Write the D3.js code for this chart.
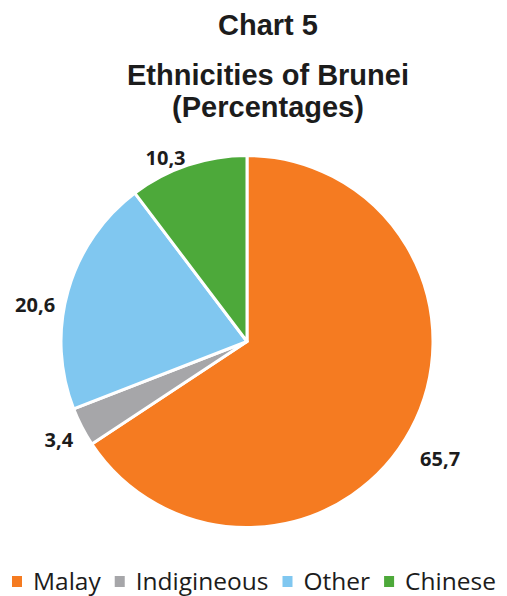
<!DOCTYPE html>
<html>
<head>
<meta charset="utf-8">
<script src="https://cdn.jsdelivr.net/npm/d3@7"></script>
<style>
  html, body { margin: 0; padding: 0; background: #fff; }
  svg { display: block; }
</style>
</head>
<body>
<svg id="chart" width="507" height="596"></svg>
<script>
// Ethnic composition of Brunei, in percent
const categories = ["Malay", "Indigineous", "Other", "Chinese"];
const values = [65.7, 3.4, 20.6, 10.3];
const valueLabels = ["65,7", "3,4", "20,6", "10,3"];
const colors = ["#F57B21", "#A6A6A9", "#80C7F0", "#4DA93A"];
const titleLines = ["Chart 5", "Ethnicities of Brunei", "(Percentages)"];

const svg = d3.select("#chart");
const cx = 247, cy = 341.5, R = 186;

// Titles
const titleY = [35, 85, 117];
svg.selectAll("text.title")
  .data(titleLines)
  .join("text")
  .attr("class", "title")
  .attr("x", 268)
  .attr("y", (d, i) => titleY[i])
  .attr("text-anchor", "middle")
  .attr("font-family", "Liberation Sans, Arial, sans-serif")
  .attr("font-weight", "bold")
  .attr("font-size", 29)
  .attr("fill", "#1c1c1c")
  .text(d => d);

// Pie, starting at 12 o'clock and running clockwise
const pie = d3.pie().sort(null).value(d => d);
const arcs = pie(values);
const arc = d3.arc().innerRadius(0).outerRadius(R);

const g = svg.append("g").attr("transform", `translate(${cx},${cy})`);
g.selectAll("path")
  .data(arcs)
  .join("path")
  .attr("d", arc)
  .attr("fill", (d, i) => colors[i])
  .attr("stroke", "#fff")
  .attr("stroke-width", 3)
  .attr("stroke-linejoin", "round");

// Value labels outside each slice: the label box sits beyond the rim
// along the slice's mid angle, then gets a hand-tuned nudge.
const labelFont = 20;
const nudge = [[2, 15], [0, 1], [-3, 23], [-15, 15]];
const vals = g.selectAll("text.val")
  .data(arcs)
  .join("text")
  .attr("class", "val")
  .attr("text-anchor", "middle")
  .attr("font-family", "Open Sans, Lato, sans-serif")
  .attr("font-weight", "bold")
  .attr("font-size", labelFont)
  .attr("fill", "#1c1c1c")
  .text((d, i) => valueLabels[i]);

vals.each(function(d, i) {
  const mid = (d.startAngle + d.endAngle) / 2;
  const s = Math.sin(mid), c = Math.cos(mid);
  const hw = this.getComputedTextLength() / 2, hh = 7;
  const r = R + hw * Math.abs(s) + hh * Math.abs(c) + 10;
  const x = r * s + nudge[i][0];
  const y = -r * c + nudge[i][1];
  d3.select(this).attr("x", x).attr("y", y + hh);
});

// Legend along the bottom
const legend = svg.append("g").attr("transform", "translate(0,590)");
let xPos = 12;
categories.forEach((c, i) => {
  legend.append("rect")
    .attr("x", xPos)
    .attr("y", -14)
    .attr("width", 10)
    .attr("height", 11)
    .attr("fill", colors[i]);
  const t = legend.append("text")
    .attr("x", xPos + 21)
    .attr("y", 0)
    .attr("font-family", "Open Sans, Lato, sans-serif")
    .attr("font-size", 24.5)
    .attr("fill", "#1c1c1c")
    .text(c);
  xPos += 21 + t.node().getComputedTextLength() + 14;
});
</script>
</body>
</html>
